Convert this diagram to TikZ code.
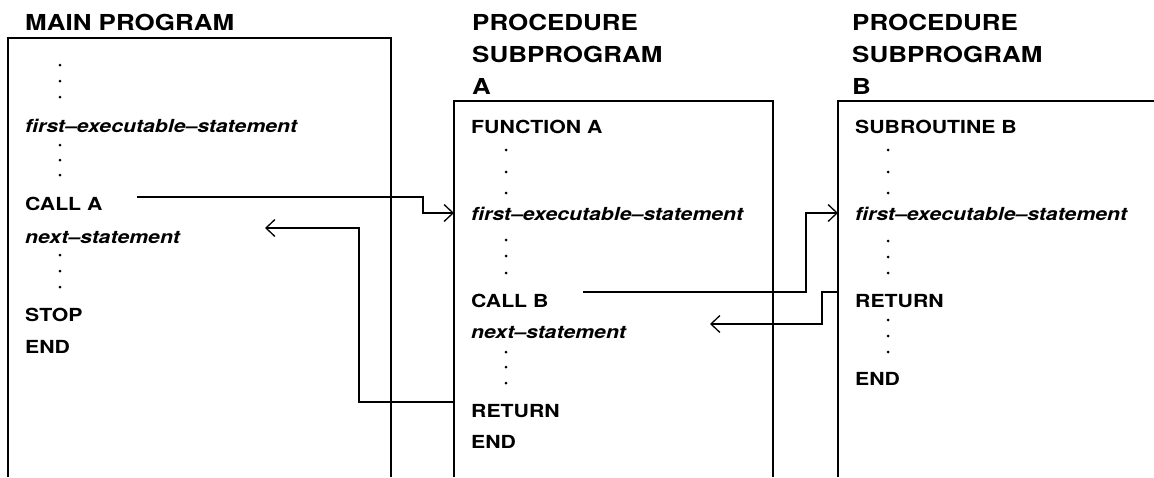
\documentclass[tikz,border=0pt]{standalone}
\usepackage{fontspec}
\usepackage{graphicx}
\setmainfont{TeX Gyre Heros}
\newcommand\wide[1]{\scalebox{1.18}[1]{#1}}
\usetikzlibrary{arrows.meta}
\begin{document}
\begin{tikzpicture}[x=1pt,y=-1pt,
  txt/.style={inner sep=0pt, anchor=base west, font=\fontsize{18}{20}\selectfont\bfseries},
  ital/.style={inner sep=0pt, anchor=base west, font=\fontsize{18}{20}\selectfont\bfseries\itshape},
  ttl/.style={inner sep=0pt, anchor=base west, font=\fontsize{22}{24}\selectfont\bfseries},
  frame/.style={line width=1.4pt},
  flow/.style={line width=1.3pt, -{Straight Barb[length=9pt,width=17pt,line width=1.3pt]}},
  ellip/.style={radius=1.5pt}]
\useasboundingbox (0,0) rectangle (1154,477);

% titles
\node[ttl] (tmain) at (25,30) {\wide{MAIN PROGRAM}};
\node[ttl] (ta1) at (472,30) {\wide{PROCEDURE}};
\node[ttl] (ta2) at (472,62) {\wide{SUBPROGRAM}};
\node[ttl] (ta3) at (472,94) {\wide{A}};
\node[ttl] (tb1) at (852,30) {\wide{PROCEDURE}};
\node[ttl] (tb2) at (852,62) {\wide{SUBPROGRAM}};
\node[ttl] (tb3) at (852,94) {\wide{B}};

% open-bottom frames
\draw[frame] (8,477) -- (8,38) -- (391,38) -- (391,477);
\draw[frame] (454,477) -- (454,101) -- (773,101) -- (773,477);
\draw[frame] (838,477) -- (838,101) -- (1154,101);

% main program
\node[ital] (mfes) at (25,132) {\wide{first--executable--statement}};
\node[txt]  (mcall) at (25,210) {\wide{CALL A}};
\node[ital] (mnext) at (25,243) {\wide{next--statement}};
\node[txt]  (mstop) at (25,321) {\wide{STOP}};
\node[txt]  (mend) at (25,353) {\wide{END}};
\foreach \y in {65,81,97,145,160,175,255,271,287}
  \fill (60,\y) circle[ellip];

% subprogram A
\node[txt]  (afun) at (471,133) {\wide{FUNCTION A}};
\node[ital] (afes) at (471,220) {\wide{first--executable--statement}};
\node[txt]  (acall) at (471,307) {\wide{CALL B}};
\node[ital] (anext) at (471,338) {\wide{next--statement}};
\node[txt]  (aret) at (471,417) {\wide{RETURN}};
\node[txt]  (aend) at (471,448) {\wide{END}};
\foreach \y in {150,172,193,240,256,273,352,367,383}
  \fill (506,\y) circle[ellip];

% subprogram B
\node[txt]  (bsub) at (855,133) {\wide{SUBROUTINE B}};
\node[ital] (bfes) at (855,220) {\wide{first--executable--statement}};
\node[txt]  (bret) at (855,307) {\wide{RETURN}};
\node[txt]  (bend) at (855,385) {\wide{END}};
\foreach \y in {150,172,193,241,257,273,320,336,352}
  \fill (888,\y) circle[ellip];

% control-flow connectors
\coordinate (callAout) at (137,197);
\coordinate (callAbend) at (423,213);
\coordinate (entryA) at (454,213);
\draw[flow] (callAout) -| (callAbend) -- (entryA);

\coordinate (retAout) at (454,402);
\coordinate (retAbend) at (359,228);
\coordinate (backMain) at (265,228);
\draw[flow] (retAout) -| (retAbend) -- (backMain);

\coordinate (callBout) at (583,292);
\coordinate (callBbend) at (806,213);
\coordinate (entryB) at (838,213);
\draw[flow] (callBout) -| (callBbend) -- (entryB);

\coordinate (retBout) at (838,292);
\coordinate (retBbend) at (822,324);
\coordinate (backA) at (710,324);
\draw[flow] (retBout) -| (retBbend) -- (backA);
\end{tikzpicture}
\end{document}
